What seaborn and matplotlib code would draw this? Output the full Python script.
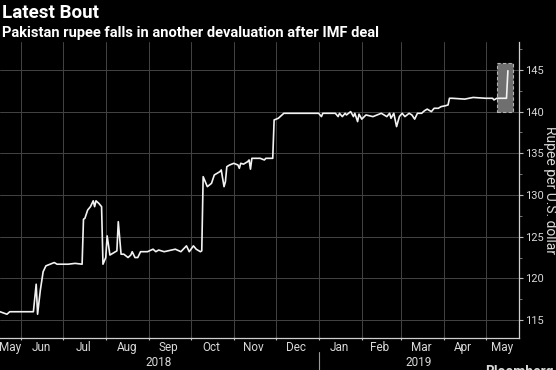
import matplotlib
matplotlib.use("Agg")
import matplotlib.pyplot as plt
import matplotlib.dates as mdates
import matplotlib.font_manager as fm
import matplotlib.patches as mpatches
import matplotlib.transforms as mtrans
import seaborn as sns
import pandas as pd

# ---------------- data ----------------
dates = [
    "2018-05-17", "2018-05-22", "2018-05-24", "2018-06-04", "2018-06-10", "2018-06-12",
    "2018-06-13", "2018-06-15", "2018-06-17", "2018-06-19", "2018-06-22", "2018-06-25",
    "2018-06-27", "2018-07-05", "2018-07-10", "2018-07-15", "2018-07-16", "2018-07-17",
    "2018-07-19", "2018-07-21", "2018-07-23", "2018-07-24", "2018-07-25", "2018-07-27",
    "2018-07-29", "2018-07-30", "2018-08-01", "2018-08-02", "2018-08-04", "2018-08-06",
    "2018-08-09", "2018-08-10", "2018-08-12", "2018-08-14", "2018-08-17", "2018-08-19",
    "2018-08-20", "2018-08-22", "2018-08-24", "2018-08-26", "2018-08-31", "2018-09-04",
    "2018-09-06", "2018-09-08", "2018-09-12", "2018-09-20", "2018-09-24", "2018-09-28",
    "2018-09-30", "2018-10-03", "2018-10-05", "2018-10-08", "2018-10-09", "2018-10-10",
    "2018-10-13", "2018-10-16", "2018-10-18", "2018-10-22", "2018-10-23", "2018-10-25",
    "2018-10-26", "2018-10-27", "2018-10-29", "2018-11-01", "2018-11-04", "2018-11-05",
    "2018-11-06", "2018-11-08", "2018-11-11", "2018-11-12", "2018-11-13", "2018-11-14",
    "2018-11-20", "2018-11-23", "2018-11-24", "2018-11-29", "2018-11-30", "2018-12-03",
    "2018-12-07", "2018-12-20", "2019-01-01", "2019-01-03", "2019-01-04", "2019-01-13",
    "2019-01-15", "2019-01-16", "2019-01-18", "2019-01-20", "2019-01-21", "2019-01-24",
    "2019-01-26", "2019-01-27", "2019-01-29", "2019-01-30", "2019-02-01", "2019-02-04",
    "2019-02-09", "2019-02-15", "2019-02-19", "2019-02-21", "2019-02-22", "2019-02-24",
    "2019-02-26", "2019-02-28", "2019-03-02", "2019-03-04", "2019-03-07", "2019-03-09",
    "2019-03-11", "2019-03-13", "2019-03-16", "2019-03-18", "2019-03-20", "2019-03-23",
    "2019-03-25", "2019-03-28", "2019-03-30", "2019-04-02", "2019-04-04", "2019-04-05",
    "2019-04-07", "2019-04-16", "2019-04-22", "2019-05-01", "2019-05-06", "2019-05-07",
    "2019-05-09", "2019-05-16", "2019-05-17",
]
rupee = [
    116.0, 115.7, 116.0, 116.0, 116.0, 119.3,
    115.7, 118.6, 120.8, 121.5, 121.7, 121.9,
    121.7, 121.7, 121.8, 121.7, 127.1, 127.2,
    128.2, 128.6, 129.3, 128.6, 129.3, 129.0,
    128.6, 121.7, 122.5, 125.1, 122.8, 123.0,
    123.3, 126.8, 122.9, 122.9, 122.5, 122.8,
    123.2, 122.5, 122.5, 123.2, 123.2, 123.5,
    123.2, 123.4, 123.2, 123.5, 123.2, 123.9,
    123.2, 123.9, 123.5, 123.2, 123.3, 132.2,
    131.0, 131.4, 132.4, 132.8, 133.0, 131.0,
    131.6, 133.4, 133.6, 133.8, 133.6, 133.2,
    133.8, 133.7, 134.0, 134.2, 133.1, 134.4,
    134.4, 134.2, 134.4, 134.4, 139.0, 139.2,
    139.8, 139.8, 139.8, 139.4, 139.8, 139.8,
    139.4, 139.8, 139.4, 139.8, 139.6, 140.0,
    139.4, 139.8, 138.8, 139.7, 139.1, 139.6,
    139.4, 139.8, 139.4, 139.8, 139.2, 139.8,
    138.2, 139.4, 139.8, 139.4, 139.8, 139.6,
    139.1, 139.8, 139.8, 140.1, 140.3, 140.0,
    140.4, 140.4, 140.6, 140.7, 140.8, 141.6,
    141.6, 141.5, 141.7, 141.6, 141.6, 141.4,
    141.6, 141.6, 144.9,
]
month_labels = ["May", "Jun", "Jul", "Aug", "Sep", "Oct", "Nov", "Dec",
                "Jan", "Feb", "Mar", "Apr", "May"]
month_label_dates = ["2018-05-24", "2018-06-16", "2018-07-16", "2018-08-16",
                     "2018-09-15", "2018-10-16", "2018-11-15", "2018-12-16",
                     "2019-01-16", "2019-02-14", "2019-03-16", "2019-04-15",
                     "2019-05-13"]
year_labels = ["2018", "2019"]
year_label_dates = ["2018-09-08", "2019-03-14"]
year_break = "2019-01-01"
y_ticks = [115, 120, 125, 130, 135, 140, 145]
x_start, x_end = "2018-05-17", "2019-05-25"
y_low, y_high = 112.85, 148.35
box_x = ("2019-05-09", "2019-05-21")
box_y = (140.0, 145.85)

title = "Latest Bout"
subtitle = "Pakistan rupee falls in another devaluation after IMF deal"
y_label = "Rupee per U.S. dollar"

# ---------------- style ----------------
sns.set_theme(style="dark")
names = {f.name for f in fm.fontManager.ttflist}
narrow = "Liberation Sans Narrow" if "Liberation Sans Narrow" in names else "Roboto"
plt.rcParams["font.family"] = [narrow, "DejaVu Sans"]

BG = "#000000"
FG = "#d9d9d9"
GRID = "#444444"

df = pd.DataFrame({"date": pd.to_datetime(dates), "rupee": rupee})

fig = plt.figure(figsize=(5.56, 3.70), dpi=100, facecolor=BG)
ax = fig.add_axes([0.0, 0.0865, 0.9335, 0.8000])
ax.set_facecolor(BG)

sns.lineplot(data=df, x="date", y="rupee", ax=ax, color="#f2f2f2",
             linewidth=1.2, zorder=4)

# highlight box
bx0, bx1 = mdates.date2num(pd.to_datetime(box_x[0])), mdates.date2num(pd.to_datetime(box_x[1]))
ax.add_patch(mpatches.Rectangle((bx0, box_y[0]), bx1 - bx0, box_y[1] - box_y[0],
                                facecolor="#6f6f6f", edgecolor="#b5b5b5",
                                linestyle=(0, (3, 2)), linewidth=0.8, zorder=3))

ax.set_xlim(pd.to_datetime(x_start), pd.to_datetime(x_end))
ax.set_ylim(y_low, y_high)

# y axis on the right
ax.yaxis.tick_right()
ax.yaxis.set_label_position("right")
ax.set_yticks(y_ticks)
ax.set_yticklabels([str(v) for v in y_ticks])
ax.yaxis.set_minor_locator(matplotlib.ticker.MultipleLocator(2.5))
ax.tick_params(axis="y", which="major", right=True, left=False, length=3,
               width=0.8, color="#bbbbbb", labelcolor=FG, labelsize=8, pad=1.5)
ax.tick_params(axis="y", which="minor", right=True, left=False, length=2,
               width=0.6, color="#888888")
ax.set_ylabel(y_label, rotation=270, color=FG, fontsize=10, labelpad=9)

# x axis: month boundaries as ticks, labels mid-month
ax.xaxis.set_major_locator(mdates.MonthLocator())
ax.xaxis.set_major_formatter(matplotlib.ticker.NullFormatter())
ax.xaxis.set_minor_locator(matplotlib.ticker.FixedLocator(
    mdates.date2num(pd.to_datetime(month_label_dates))))
ax.xaxis.set_minor_formatter(matplotlib.ticker.FixedFormatter(month_labels))
ax.tick_params(axis="x", which="major", bottom=True, length=3, width=0.8,
               color="#bbbbbb", direction="inout")
ax.tick_params(axis="x", which="minor", bottom=True, length=0,
               labelcolor=FG, labelsize=8.5, pad=2)
ax.set_xlabel("")

xform = mtrans.blended_transform_factory(ax.transData, ax.transAxes)
for lab, d in zip(year_labels, year_label_dates):
    ax.text(mdates.date2num(pd.to_datetime(d)), -0.083, lab, transform=xform,
            ha="center", va="center", color=FG, fontsize=8.5)
yb = mdates.date2num(pd.to_datetime(year_break))
ax.plot([yb, yb], [-0.047, -0.11], transform=xform, color="#9a9a9a",
        linewidth=0.8, clip_on=False)

# fine grid at the major tick positions of both axes
ax.grid(False)
grid_kw = dict(color=GRID, linestyle="-", linewidth=0.7, zorder=2)
for v in ax.get_yticks():
    ax.axhline(v, **grid_kw)
for v in ax.get_xticks():
    ax.axvline(v, **grid_kw)

for side in ["top", "left"]:
    ax.spines[side].set_visible(False)
for side in ["bottom", "right"]:
    ax.spines[side].set_visible(True)
    ax.spines[side].set_color("#cfcfcf")
    ax.spines[side].set_linewidth(0.9)

# titles
fig.text(0.003, 1 - 4 / 370, title, ha="left", va="top", color="white",
         fontsize=13.5, fontweight="bold")
fig.text(0.003, 1 - 26 / 370, subtitle, ha="left", va="top", color="white",
         fontsize=10.5, fontweight="bold")
fig.text(485 / 556, 1 - 365 / 370, "Bloomberg", ha="left", va="top",
         color=FG, fontsize=10, fontweight="bold")

fig.savefig("out.png", dpi=100, facecolor=BG)
